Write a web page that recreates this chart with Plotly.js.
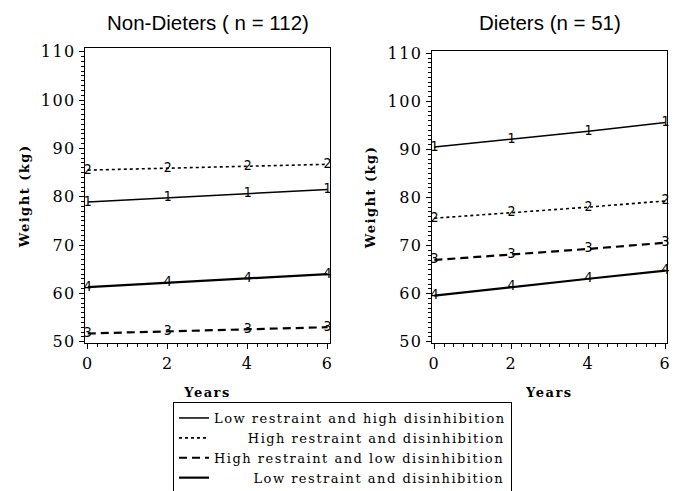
<!DOCTYPE html>
<html>
<head>
<meta charset="utf-8">
<script src="https://cdn.plot.ly/plotly-3.0.1.min.js"></script>
<style>
  html, body { margin: 0; padding: 0; background: #fff; }
  #chart { width: 676px; height: 491px; }
  .xtick text, .ytick text, .x2tick text, .y2tick text { letter-spacing: 1.5px; }
  .g-xtitle text, .g-x2title text, .g-ytitle text, .g-y2title text { letter-spacing: 1.5px; }
  .legendtext { letter-spacing: 1.5px; }
</style>
</head>
<body>
<div id="chart"></div>
<script>
// ---- data ----
const years = [0, 2, 4, 6];
const seriesNames = [
  "Low restraint and high disinhibition",
  "High restraint and disinhibition",
  "High restraint and low disinhibition",
  "Low restraint and disinhibition"
];
const seriesCodes = ["1", "2", "3", "4"];
// Non-dieters (n = 112)
const nonLowRHighD  = [78.9, 79.8, 80.7, 81.5];
const nonHighRHighD = [85.5, 85.9, 86.3, 86.7];
const nonHighRLowD  = [51.7, 52.1, 52.6, 53.0];
const nonLowRLowD   = [61.3, 62.2, 63.1, 64.0];
// Dieters (n = 51)
const dietLowRHighD  = [90.5, 92.1, 93.8, 95.6];
const dietHighRHighD = [75.7, 76.8, 78.0, 79.3];
const dietHighRLowD  = [67.0, 68.1, 69.3, 70.6];
const dietLowRLowD   = [59.6, 61.4, 63.1, 64.8];
const panelTitles = ["Non-Dieters ( n = 112)", "Dieters (n = 51)"];
const xTitle = "Years";
const yTitle = "Weight (kg)";

// ---- styling ----
const lineStyles = [
  { color: "#000", width: 1.5, dash: "solid" },
  { color: "#000", width: 1.6, dash: "dot" },
  { color: "#000", width: 2.2, dash: "8px,5px" },
  { color: "#000", width: 2.2, dash: "solid" }
];
const legendFontSize = 13;
const legendFont = "DejaVu Serif";
const legendLetterSpacing = 1.5;

// right-align legend labels by padding with no-break spaces
const ctx = document.createElement("canvas").getContext("2d");
ctx.font = legendFontSize + "px \"" + legendFont + "\"";
if ("letterSpacing" in ctx) ctx.letterSpacing = legendLetterSpacing + "px";
const widths = seriesNames.map(n => ctx.measureText(n).width);
const maxW = Math.max(...widths);
const spW = ctx.measureText("\u00a0").width;
const paddedNames = seriesNames.map((n, i) => "\u00a0".repeat(Math.round((maxW - widths[i]) / spW)) + n);

const panels = [
  { xa: "x", ya: "y", data: [nonLowRHighD, nonHighRHighD, nonHighRLowD, nonLowRLowD], legend: true },
  { xa: "x2", ya: "y2", data: [dietLowRHighD, dietHighRHighD, dietHighRLowD, dietLowRLowD], legend: false }
];

const traces = [];
panels.forEach(p => {
  p.data.forEach((vals, i) => {
    traces.push({
      x: years, y: vals, xaxis: p.xa, yaxis: p.ya,
      type: "scatter", mode: "lines",
      name: paddedNames[i], legendgroup: "g" + i, showlegend: p.legend,
      line: lineStyles[i], hoverinfo: "skip"
    });
  });
  p.data.forEach((vals, i) => {
    traces.push({
      x: years, y: vals, xaxis: p.xa, yaxis: p.ya,
      type: "scatter", mode: "text",
      text: years.map(() => seriesCodes[i]),
      textposition: "middle center",
      textfont: { family: "Liberation Sans Narrow, DejaVu Sans Condensed", size: 14, color: "#000" },
      cliponaxis: false, showlegend: false, legendgroup: "g" + i, hoverinfo: "skip"
    });
  });
});

const tickFont = { family: "DejaVu Serif", size: 16, color: "#000" };
const axTitleFont = { family: "DejaVu Serif", size: 13, color: "#000", weight: "bold" };

function xAxis(domain, range) {
  return {
    domain: domain, range: range, tickmode: "linear", tick0: 0, dtick: 2,
    ticks: "outside", ticklen: 5, tickwidth: 1, tickcolor: "#000",
    minor: { dtick: 0.25, ticks: "outside", ticklen: 3, tickwidth: 1, tickcolor: "#000", showgrid: false },
    showline: true, linecolor: "#000", linewidth: 1, mirror: true,
    showgrid: false, zeroline: false, tickfont: tickFont,
    title: { text: xTitle, font: axTitleFont, standoff: 16 }
  };
}
function yAxis(domain, range, anchor) {
  return {
    domain: domain, range: range, anchor: anchor, tickmode: "linear", tick0: 50, dtick: 10,
    ticks: "outside", ticklen: 5, tickwidth: 1, tickcolor: "#000",
    minor: { dtick: 1, ticks: "outside", ticklen: 3, tickwidth: 1, tickcolor: "#000", showgrid: false },
    showline: true, linecolor: "#000", linewidth: 1, mirror: true,
    showgrid: false, zeroline: false, tickfont: tickFont,
    title: { text: yTitle, font: axTitleFont, standoff: 8 }
  };
}

const layout = {
  width: 676, height: 491,
  margin: { l: 0, r: 0, t: 0, b: 0, autoexpand: false },
  paper_bgcolor: "#fff", plot_bgcolor: "#fff",
  showlegend: true,
  xaxis: Object.assign(xAxis([85 / 676, 330 / 676], [-0.07, 6.06]), { anchor: "y" }),
  yaxis: yAxis([1 - 343.3 / 491, 1 - 48.3 / 491], [49.67, 110.7], "x"),
  xaxis2: Object.assign(xAxis([431.7 / 676, 667 / 676], [-0.07, 6.04]), { anchor: "y2" }),
  yaxis2: yAxis([1 - 343.3 / 491, 1 - 50.7 / 491], [49.67, 110.55], "x2"),
  legend: {
    x: 173 / 676, xanchor: "left", y: 1 - 402 / 491, yanchor: "top",
    bordercolor: "#000", borderwidth: 1, bgcolor: "#fff",
    font: { family: legendFont, size: legendFontSize, color: "#000" },
    itemwidth: 30, tracegroupgap: 0, traceorder: "normal"
  },
  annotations: [
    { text: panelTitles[0], xref: "paper", yref: "paper", x: 208 / 676, y: 1 - 22 / 491,
      xanchor: "center", yanchor: "middle", showarrow: false,
      font: { family: "Liberation Sans, Arial", size: 20.5, color: "#000" } },
    { text: panelTitles[1], xref: "paper", yref: "paper", x: 550 / 676, y: 1 - 22 / 491,
      xanchor: "center", yanchor: "middle", showarrow: false,
      font: { family: "Liberation Sans, Arial", size: 20.5, color: "#000" } }
  ]
};

Plotly.newPlot("chart", traces, layout, { staticPlot: true, displayModeBar: false });
</script>
</body>
</html>
